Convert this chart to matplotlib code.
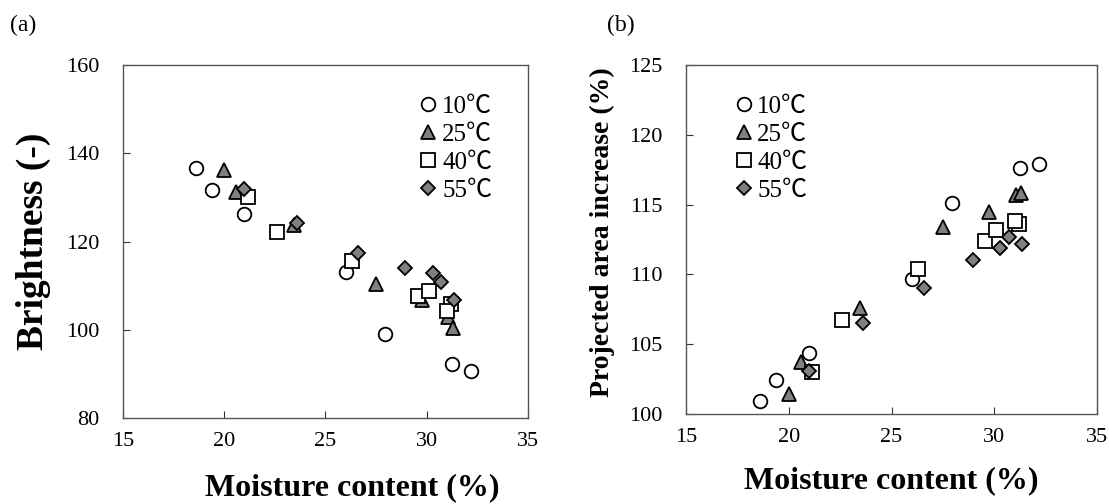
import matplotlib
matplotlib.use("Agg")
import matplotlib.pyplot as plt

plt.rcParams['font.family'] = ['Liberation Serif', 'Noto Sans CJK JP', 'DejaVu Sans']

# moisture content (%) for each temperature
mc_10 = [18.6, 19.4, 21.0, 26.0, 27.95, 31.25, 32.2]
mc_25 = [20.0, 20.6, 23.45, 27.5, 29.75, 31.05, 31.3]
mc_40 = [21.15, 22.6, 26.3, 29.55, 30.1, 31.2, 31.0]
mc_55 = [21.0, 23.6, 26.6, 28.95, 30.3, 30.7, 31.35]

# (a) brightness (-)
br_10 = [136.6, 131.7, 126.2, 113.2, 99.1, 92.2, 90.7]
br_25 = [136.2, 131.3, 123.8, 110.4, 106.8, 103.0, 100.4]
br_40 = [130.0, 122.1, 115.6, 107.7, 108.8, 105.8, 104.3]
br_55 = [131.8, 124.2, 117.4, 114.0, 112.8, 110.8, 106.8]

# (b) projected area increase (%)
pa_10 = [100.9, 102.4, 104.4, 109.7, 115.1, 117.6, 117.9]
pa_25 = [101.4, 103.75, 107.6, 113.4, 114.5, 115.7, 115.8]
pa_40 = [103.0, 106.75, 110.4, 112.4, 113.2, 113.6, 113.8]
pa_55 = [103.1, 106.5, 109.0, 111.05, 111.9, 112.7, 112.2]

labels = ['10℃', '25℃', '40℃', '55℃']
xs = [mc_10, mc_25, mc_40, mc_55]
styles = [
    dict(marker='o', ms=9.8, mfc='white', mec='black'),
    dict(marker='^', ms=10, mfc='#808080', mec='black'),
    dict(marker='s', ms=10, mfc='white', mec='black'),
    dict(marker='D', ms=7, mfc='#808080', mec='black'),
]

fig = plt.figure(figsize=(11.09, 5.04), dpi=100)
ax1 = fig.add_axes([0.1109, 0.1706, 0.3652, 0.7004])
ax2 = fig.add_axes([0.6186, 0.1786, 0.3706, 0.6925])


def draw(ax, ys, lpad):
    for x, y, lab, st in zip(xs, ys, labels, styles):
        ax.plot(x, y, ls='none', mew=1.3, label=lab, **st)
    ax.set_xlim(15, 35)
    ax.set_xticks([15, 20, 25, 30, 35])
    ax.tick_params(direction='in', labelsize=16, length=5, color='#333333')
    ax.tick_params(axis='y', pad=17)
    ax.tick_params(axis='x', pad=10)
    for s in ax.spines.values():
        s.set_color('#555555')
        s.set_linewidth(1.0)
    ax.set_xlabel('Moisture content (%)', fontsize=23, fontweight='bold', labelpad=lpad)


draw(ax1, [br_10, br_25, br_40, br_55], 16)
ax1.xaxis.label.set_x(0.565)
ax1.set_ylim(80, 160)
ax1.set_yticks([80, 100, 120, 140, 160])
ax1.set_ylabel('Brightness (-)', fontsize=27, fontweight='bold', labelpad=11)
ax1.legend(loc='upper left', bbox_to_anchor=(0.723, 0.913), frameon=False,
           fontsize=18, handletextpad=0.05, labelspacing=0.22, borderaxespad=0,
           borderpad=0, handlelength=1.0)

draw(ax2, [pa_10, pa_25, pa_40, pa_55], 14)
ax2.set_ylim(100, 125)
ax2.set_yticks([100, 105, 110, 115, 120, 125])
ax2.set_ylabel('Projected area increase (%)', fontsize=20, fontweight='bold', labelpad=10)
ax2.yaxis.label.set_y(0.52)
ax2.legend(loc='upper left', bbox_to_anchor=(0.1095, 0.912), frameon=False,
           fontsize=18, handletextpad=0.05, labelspacing=0.22, borderaxespad=0,
           borderpad=0, handlelength=1.0)

fig.text(0.009, 0.938, '(a)', fontsize=17)
fig.text(0.547, 0.938, '(b)', fontsize=17)

fig.savefig('out.png', dpi=100)
